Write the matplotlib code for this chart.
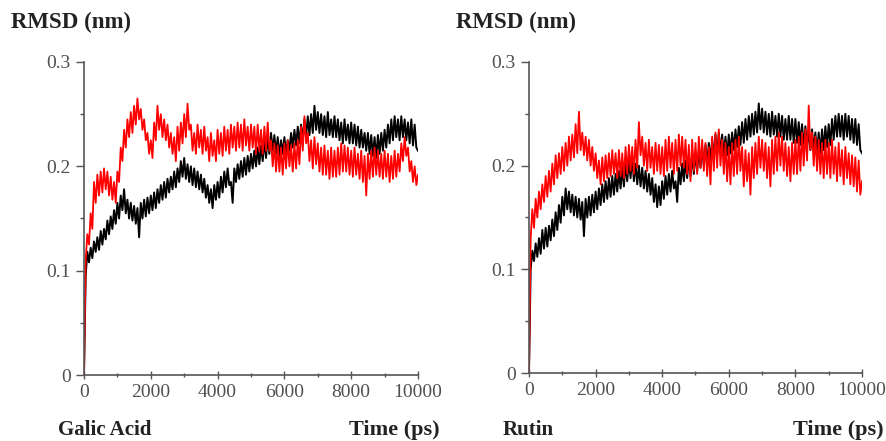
import numpy as np
import matplotlib
matplotlib.use("Agg")
import matplotlib.pyplot as plt
from matplotlib.ticker import MultipleLocator

plt.rcParams["font.family"] = ["Liberation Serif", "DejaVu Serif"]

# time axis (ps), one sample every 50 ps
time_ps = np.arange(0, 10001, 50)

# Galic Acid panel (rows of 500 ps)
ga_black = [
    0.000, 0.095, 0.118, 0.108, 0.122, 0.112, 0.128, 0.118, 0.132, 0.120,
    0.138, 0.125, 0.140, 0.130, 0.148, 0.135, 0.152, 0.140, 0.158, 0.145,
    0.165, 0.150, 0.172, 0.158, 0.178, 0.155, 0.168, 0.150, 0.165, 0.148,
    0.162, 0.145, 0.160, 0.132, 0.165, 0.150, 0.168, 0.152, 0.170, 0.155,
    0.172, 0.158, 0.175, 0.160, 0.178, 0.165, 0.182, 0.168, 0.185, 0.170,
    0.188, 0.175, 0.190, 0.178, 0.195, 0.180, 0.198, 0.185, 0.205, 0.190,
    0.208, 0.188, 0.202, 0.185, 0.200, 0.182, 0.198, 0.180, 0.195, 0.178,
    0.192, 0.175, 0.188, 0.170, 0.182, 0.165, 0.178, 0.160, 0.182, 0.168,
    0.185, 0.170, 0.190, 0.175, 0.195, 0.180, 0.198, 0.182, 0.185, 0.165,
    0.198, 0.185, 0.202, 0.188, 0.205, 0.190, 0.208, 0.192, 0.210, 0.195,
    0.212, 0.198, 0.215, 0.200, 0.218, 0.202, 0.220, 0.205, 0.225, 0.208,
    0.228, 0.212, 0.232, 0.215, 0.230, 0.212, 0.228, 0.210, 0.225, 0.212,
    0.228, 0.212, 0.225, 0.215, 0.232, 0.218, 0.235, 0.220, 0.238, 0.222,
    0.240, 0.225, 0.245, 0.228, 0.248, 0.230, 0.250, 0.232, 0.258, 0.235,
    0.252, 0.232, 0.250, 0.230, 0.248, 0.228, 0.252, 0.230, 0.245, 0.228,
    0.248, 0.228, 0.245, 0.225, 0.242, 0.222, 0.245, 0.225, 0.240, 0.222,
    0.242, 0.222, 0.240, 0.220, 0.238, 0.218, 0.235, 0.218, 0.232, 0.215,
    0.232, 0.212, 0.230, 0.210, 0.228, 0.208, 0.230, 0.212, 0.232, 0.215,
    0.235, 0.218, 0.240, 0.222, 0.245, 0.225, 0.248, 0.228, 0.245, 0.225,
    0.248, 0.228, 0.245, 0.225, 0.242, 0.222, 0.245, 0.220, 0.240, 0.218,
    0.215,
]
ga_red = [
    0.000, 0.110, 0.135, 0.125, 0.155, 0.140, 0.185, 0.165, 0.192, 0.172,
    0.195, 0.175, 0.198, 0.178, 0.195, 0.172, 0.190, 0.168, 0.185, 0.165,
    0.195, 0.185, 0.218, 0.205, 0.235, 0.218, 0.245, 0.228, 0.252, 0.232,
    0.258, 0.240, 0.265, 0.245, 0.255, 0.235, 0.245, 0.225, 0.232, 0.212,
    0.225, 0.208, 0.242, 0.225, 0.258, 0.235, 0.250, 0.228, 0.245, 0.225,
    0.240, 0.218, 0.232, 0.212, 0.228, 0.205, 0.238, 0.215, 0.242, 0.222,
    0.250, 0.228, 0.260, 0.235, 0.240, 0.215, 0.232, 0.212, 0.240, 0.218,
    0.235, 0.212, 0.238, 0.215, 0.228, 0.205, 0.232, 0.210, 0.225, 0.205,
    0.235, 0.212, 0.232, 0.210, 0.238, 0.215, 0.235, 0.212, 0.240, 0.218,
    0.238, 0.215, 0.242, 0.218, 0.240, 0.215, 0.245, 0.220, 0.238, 0.215,
    0.240, 0.218, 0.238, 0.212, 0.240, 0.215, 0.235, 0.212, 0.238, 0.215,
    0.242, 0.215, 0.225, 0.200, 0.222, 0.195, 0.220, 0.195, 0.218, 0.192,
    0.222, 0.198, 0.225, 0.200, 0.220, 0.195, 0.222, 0.198, 0.225, 0.202,
    0.238, 0.215, 0.248, 0.222, 0.232, 0.205, 0.225, 0.198, 0.228, 0.202,
    0.222, 0.195, 0.218, 0.192, 0.220, 0.192, 0.215, 0.188, 0.218, 0.190,
    0.215, 0.190, 0.218, 0.192, 0.222, 0.195, 0.220, 0.195, 0.218, 0.192,
    0.215, 0.190, 0.218, 0.192, 0.212, 0.188, 0.215, 0.185, 0.210, 0.172,
    0.212, 0.188, 0.215, 0.190, 0.218, 0.192, 0.215, 0.190, 0.212, 0.188,
    0.215, 0.190, 0.212, 0.185, 0.210, 0.188, 0.215, 0.190, 0.212, 0.195,
    0.222, 0.205, 0.228, 0.210, 0.218, 0.195, 0.205, 0.185, 0.200, 0.182,
    0.192,
]

# Rutin panel (rows of 500 ps)
ru_black = [
    0.000, 0.100, 0.118, 0.108, 0.125, 0.112, 0.130, 0.115, 0.138, 0.120,
    0.140, 0.122, 0.142, 0.128, 0.148, 0.132, 0.155, 0.138, 0.162, 0.145,
    0.170, 0.152, 0.178, 0.158, 0.175, 0.155, 0.172, 0.152, 0.170, 0.150,
    0.168, 0.148, 0.165, 0.132, 0.168, 0.150, 0.170, 0.152, 0.172, 0.155,
    0.175, 0.158, 0.178, 0.162, 0.182, 0.165, 0.185, 0.168, 0.188, 0.170,
    0.190, 0.172, 0.192, 0.175, 0.195, 0.178, 0.198, 0.180, 0.202, 0.185,
    0.205, 0.188, 0.208, 0.185, 0.202, 0.182, 0.200, 0.180, 0.198, 0.178,
    0.195, 0.175, 0.192, 0.172, 0.188, 0.165, 0.182, 0.160, 0.180, 0.162,
    0.185, 0.168, 0.190, 0.172, 0.192, 0.175, 0.195, 0.178, 0.185, 0.165,
    0.198, 0.182, 0.202, 0.185, 0.205, 0.188, 0.208, 0.190, 0.210, 0.192,
    0.212, 0.195, 0.215, 0.198, 0.218, 0.200, 0.220, 0.202, 0.222, 0.205,
    0.225, 0.208, 0.230, 0.210, 0.232, 0.212, 0.230, 0.210, 0.228, 0.210,
    0.230, 0.212, 0.232, 0.215, 0.235, 0.218, 0.238, 0.220, 0.242, 0.222,
    0.245, 0.225, 0.248, 0.228, 0.250, 0.230, 0.252, 0.232, 0.260, 0.235,
    0.255, 0.232, 0.252, 0.230, 0.250, 0.228, 0.252, 0.230, 0.248, 0.228,
    0.250, 0.228, 0.248, 0.225, 0.245, 0.225, 0.248, 0.225, 0.245, 0.222,
    0.245, 0.222, 0.242, 0.220, 0.240, 0.218, 0.238, 0.218, 0.235, 0.215,
    0.235, 0.215, 0.232, 0.212, 0.232, 0.212, 0.235, 0.215, 0.238, 0.218,
    0.240, 0.220, 0.245, 0.225, 0.248, 0.228, 0.250, 0.228, 0.248, 0.225,
    0.250, 0.228, 0.248, 0.225, 0.245, 0.222, 0.245, 0.220, 0.240, 0.215,
    0.212,
]
ru_red = [
    0.000, 0.130, 0.158, 0.140, 0.168, 0.150, 0.175, 0.158, 0.182, 0.165,
    0.190, 0.170, 0.195, 0.175, 0.202, 0.182, 0.210, 0.188, 0.212, 0.192,
    0.218, 0.195, 0.222, 0.200, 0.228, 0.205, 0.230, 0.208, 0.240, 0.212,
    0.252, 0.215, 0.232, 0.210, 0.228, 0.205, 0.225, 0.200, 0.218, 0.195,
    0.212, 0.188, 0.205, 0.182, 0.208, 0.185, 0.210, 0.188, 0.212, 0.190,
    0.215, 0.192, 0.212, 0.188, 0.215, 0.190, 0.212, 0.188, 0.218, 0.192,
    0.220, 0.195, 0.218, 0.192, 0.225, 0.198, 0.242, 0.210, 0.228, 0.200,
    0.222, 0.195, 0.225, 0.198, 0.218, 0.192, 0.222, 0.195, 0.220, 0.192,
    0.218, 0.190, 0.225, 0.195, 0.228, 0.198, 0.222, 0.192, 0.225, 0.195,
    0.230, 0.200, 0.228, 0.198, 0.225, 0.192, 0.220, 0.185, 0.225, 0.195,
    0.222, 0.192, 0.228, 0.198, 0.225, 0.195, 0.222, 0.190, 0.218, 0.182,
    0.228, 0.195, 0.232, 0.198, 0.235, 0.200, 0.225, 0.192, 0.222, 0.185,
    0.218, 0.182, 0.222, 0.190, 0.225, 0.192, 0.228, 0.195, 0.218, 0.180,
    0.215, 0.185, 0.212, 0.172, 0.218, 0.188, 0.222, 0.192, 0.228, 0.198,
    0.225, 0.195, 0.222, 0.188, 0.218, 0.180, 0.225, 0.192, 0.228, 0.195,
    0.232, 0.200, 0.228, 0.195, 0.222, 0.190, 0.218, 0.185, 0.222, 0.192,
    0.225, 0.192, 0.228, 0.195, 0.232, 0.200, 0.235, 0.205, 0.258, 0.215,
    0.232, 0.200, 0.228, 0.195, 0.225, 0.192, 0.222, 0.188, 0.225, 0.192,
    0.222, 0.188, 0.225, 0.192, 0.218, 0.185, 0.222, 0.190, 0.215, 0.182,
    0.218, 0.188, 0.212, 0.182, 0.210, 0.180, 0.208, 0.175, 0.205, 0.172,
    0.185,
]

panels = [
    ("Galic Acid", ga_black, ga_red, [84 / 887, 66 / 441, 334 / 887, 313 / 441]),
    ("Rutin", ru_black, ru_red, [529 / 887, 68 / 441, 333 / 887, 311 / 441]),
]

fig = plt.figure(figsize=(8.87, 4.41), dpi=100)
grey = "#555555"

for name, black, red, rect in panels:
    ax = fig.add_axes(rect)
    ax.plot(time_ps, black, color="black", lw=1.4)
    ax.plot(time_ps, red, color="red", lw=1.3)
    ax.set_xlim(0, 10000)
    ax.set_ylim(0, 0.3)
    ax.spines["top"].set_visible(False)
    ax.spines["right"].set_visible(False)
    for s in ("left", "bottom"):
        ax.spines[s].set_color(grey)
        ax.spines[s].set_linewidth(1.2)
    ax.xaxis.set_major_locator(MultipleLocator(2000))
    ax.xaxis.set_minor_locator(MultipleLocator(1000))
    ax.yaxis.set_minor_locator(MultipleLocator(0.05))
    ax.set_yticks([0, 0.1, 0.2, 0.3], ["0", "0.1", "0.2", "0.3"])
    ax.tick_params(which="major", length=6, width=1, color=grey,
                   labelcolor="#505050", labelsize=14)
    ax.tick_params(which="minor", length=3, width=1, color=grey)
    ax.tick_params(axis="x", which="both", direction="inout")

    x0 = rect[0]
    fig.text(x0 - 73 / 887, 1 - 22 / 441, "RMSD (nm)", fontsize=16.5,
             fontweight="bold", color="#222222", va="center", ha="left")
    fig.text(x0 - 26 / 887, 1 - 430 / 441, name, fontsize=15,
             fontweight="bold", color="#222222", va="center", ha="left")
    fig.text(rect[0] + rect[2] + 22 / 887, 1 - 430 / 441, "Time (ps)",
             fontsize=16, fontweight="bold", color="#222222",
             va="center", ha="right")

fig.savefig("out.png", dpi=100)
